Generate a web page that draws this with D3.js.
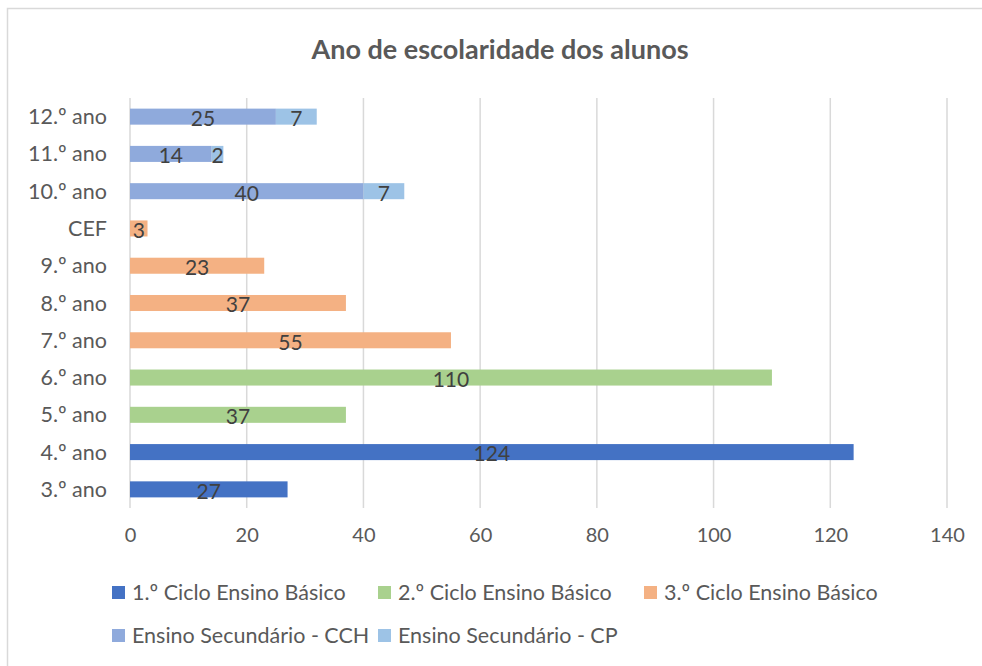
<!DOCTYPE html>
<html>
<head>
<meta charset="utf-8">
<script src="https://cdn.jsdelivr.net/npm/d3@7"></script>
<style>
    body { margin: 0; background: #fff; }
    svg text { font-family: Lato, "Open Sans", sans-serif; }
</style>
</head>
<body>
<div id="chart"></div>
<script>
// Categories, bottom to top
const categories = ['3.º ano', '4.º ano', '5.º ano', '6.º ano', '7.º ano', '8.º ano', '9.º ano', 'CEF', '10.º ano', '11.º ano', '12.º ano'];

// Series names and values (one value per category)
const seriesNames = ['1.º Ciclo Ensino Básico', '2.º Ciclo Ensino Básico', '3.º Ciclo Ensino Básico', 'Ensino Secundário - CCH', 'Ensino Secundário - CP'];
const ciclo1 = [27, 124, 0, 0, 0, 0, 0, 0, 0, 0, 0];
const ciclo2 = [0, 0, 37, 110, 0, 0, 0, 0, 0, 0, 0];
const ciclo3 = [0, 0, 0, 0, 55, 37, 23, 3, 0, 0, 0];
const secCCH = [0, 0, 0, 0, 0, 0, 0, 0, 40, 14, 25];
const secCP = [0, 0, 0, 0, 0, 0, 0, 0, 7, 2, 7];

const xTicks = [0, 20, 40, 60, 80, 100, 120, 140];
const colors = ['#4472C4', '#A9D18E', '#F4B183', '#8FAADC', '#9DC3E6'];

function drawChart() {
    const width = 982, height = 666;

    const svg = d3.select('#chart').append('svg')
        .attr('width', width)
        .attr('height', height);

    // Chart area border
    svg.append('rect')
        .attr('x', 7.5).attr('y', 8.5)
        .attr('width', width).attr('height', height)
        .attr('fill', 'none')
        .attr('stroke', '#d9d9d9')
        .attr('stroke-width', 1.5);

    // Title
    svg.append('text')
        .attr('x', 500).attr('y', 59)
        .attr('text-anchor', 'middle')
        .attr('font-size', '27px')
        .attr('font-weight', 'bold')
        .attr('fill', '#595959')
        .text('Ano de escolaridade dos alunos');

    const plot = { left: 130, right: 947, top: 98, bottom: 508 };

    const xScale = d3.scaleLinear()
        .domain([0, 140])
        .range([plot.left, plot.right]);

    const yScale = d3.scaleBand()
        .domain(categories)
        .range([plot.bottom, plot.top])
        .paddingInner(0.57)
        .paddingOuter(0.285);

    // Gridlines
    svg.append('g')
        .selectAll('line')
        .data(xTicks)
        .enter().append('line')
        .attr('x1', d => xScale(d)).attr('x2', d => xScale(d))
        .attr('y1', plot.top).attr('y2', plot.bottom)
        .attr('stroke', '#d9d9d9')
        .attr('stroke-width', 1.5);

    // X axis labels
    const xAxis = d3.axisBottom(xScale)
        .tickValues(xTicks)
        .tickSize(0)
        .tickPadding(0);
    const xg = svg.append('g')
        .attr('transform', `translate(0,${plot.bottom + 20})`)
        .call(xAxis);
    xg.select('.domain').remove();
    xg.selectAll('text')
        .attr('font-size', '20px')
        .attr('fill', '#595959')
        .attr('dy', '0.71em')
        .style('font-family', 'Lato, sans-serif');

    // Y axis labels
    const yAxis = d3.axisLeft(yScale).tickSize(0).tickPadding(23);
    const yg = svg.append('g')
        .attr('transform', `translate(${plot.left},0)`)
        .call(yAxis);
    yg.select('.domain').remove();
    yg.selectAll('text')
        .attr('font-size', '21.5px')
        .attr('fill', '#595959')
        .attr('dy', '0.35em')
        .style('font-family', 'Lato, sans-serif');

    // Stack data
    const seriesValues = [ciclo1, ciclo2, ciclo3, secCCH, secCP];
    const table = categories.map((c, i) => {
        const row = { category: c };
        seriesNames.forEach((s, j) => { row[s] = seriesValues[j][i]; });
        return row;
    });
    const stacked = d3.stack().keys(seriesNames)(table);

    const layers = svg.append('g')
        .selectAll('g')
        .data(stacked)
        .enter().append('g')
        .attr('fill', (d, i) => colors[i]);

    layers.selectAll('rect')
        .data(d => d.filter(p => p[1] - p[0] > 0))
        .enter().append('rect')
        .attr('x', d => xScale(d[0]))
        .attr('y', d => yScale(d.data.category))
        .attr('width', d => xScale(d[1]) - xScale(d[0]))
        .attr('height', yScale.bandwidth());

    // Data labels
    layers.selectAll('text')
        .data(d => d.filter(p => p[1] - p[0] > 0))
        .enter().append('text')
        .attr('x', d => xScale((d[0] + d[1]) / 2))
        .attr('y', d => yScale(d.data.category) + yScale.bandwidth() / 2 + 2)
        .attr('dy', '0.35em')
        .attr('text-anchor', 'middle')
        .attr('font-size', '21px')
        .attr('fill', '#404040')
        .text(d => d[1] - d[0]);

    // Legend (two rows)
    const legendPos = [
        { x: 112, y: 592 }, { x: 378, y: 592 }, { x: 644, y: 592 },
        { x: 112, y: 635 }, { x: 378, y: 635 }
    ];
    const legend = svg.append('g')
        .selectAll('g')
        .data(seriesNames)
        .enter().append('g')
        .attr('transform', (d, i) => `translate(${legendPos[i].x},${legendPos[i].y})`);

    legend.append('rect')
        .attr('x', 0).attr('y', -6)
        .attr('width', 13).attr('height', 13)
        .attr('fill', (d, i) => colors[i]);

    legend.append('text')
        .attr('x', 20).attr('y', 0)
        .attr('dy', '0.35em')
        .attr('font-size', '21.5px')
        .attr('fill', '#595959')
        .text(d => d);
}

drawChart();
</script>
</body>
</html>
